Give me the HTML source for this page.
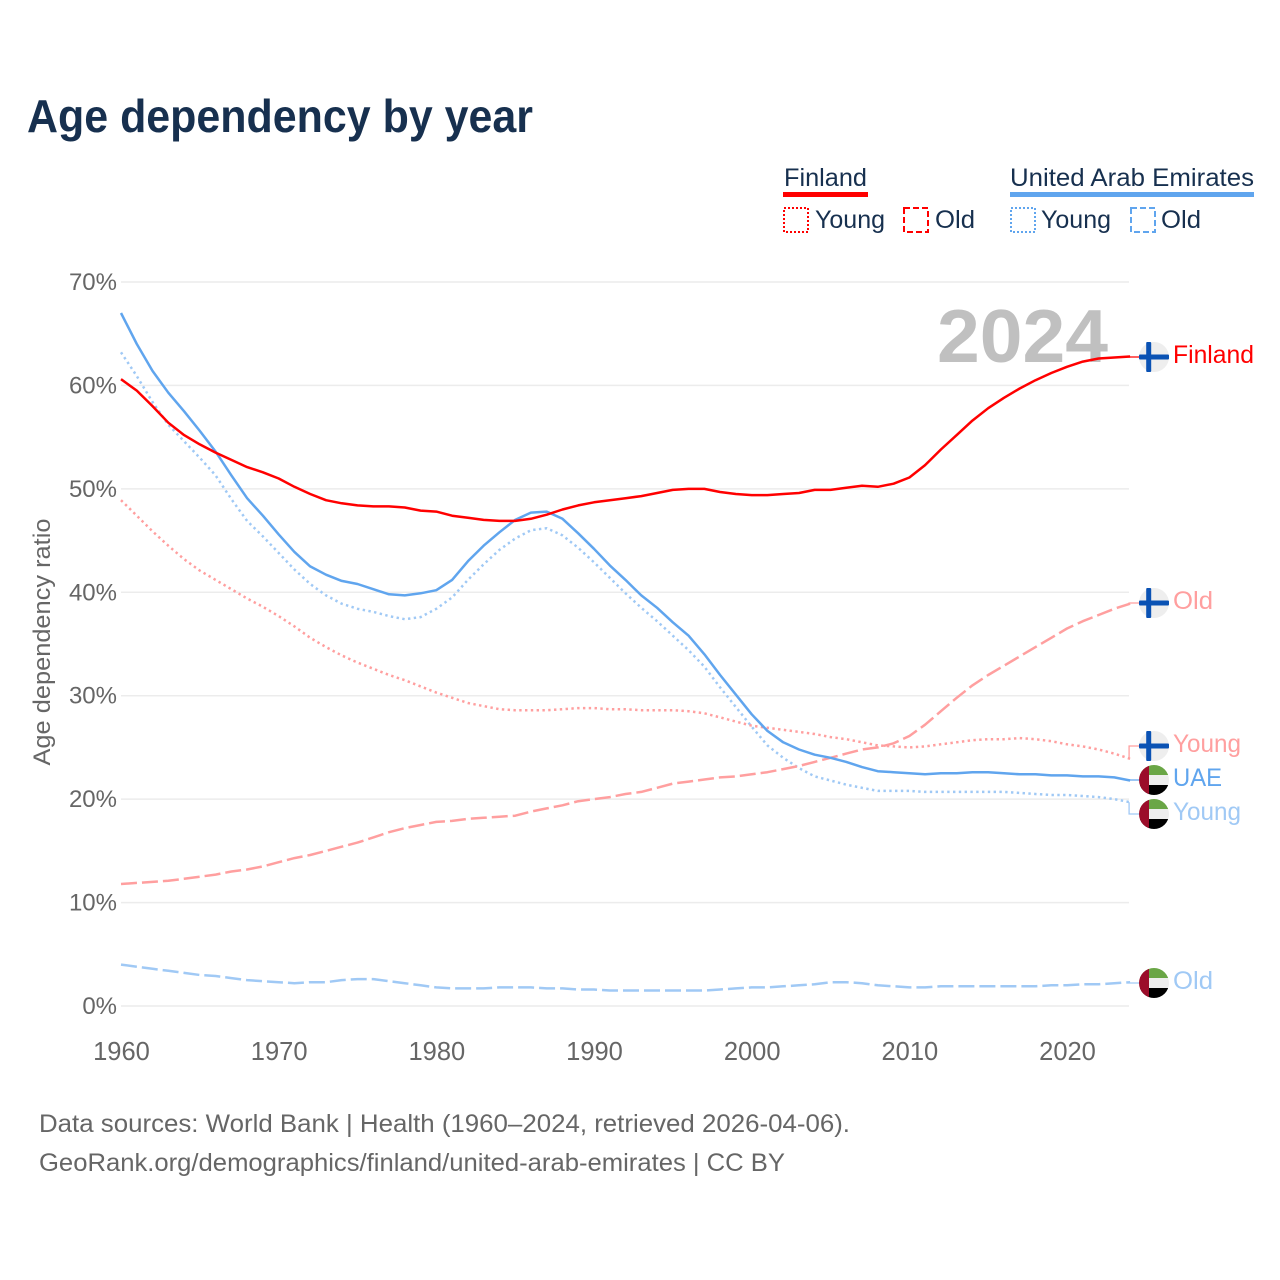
<!DOCTYPE html>
<html lang="en">
<head>
<meta charset="utf-8">
<title>Age dependency by year</title>
<style>
html,body{margin:0;padding:0;background:#fff;}
svg{display:block;font-family:"Liberation Sans",sans-serif;}
</style>
</head>
<body>
<svg id="chart" width="1280" height="1280" viewBox="0 0 1280 1280" xmlns="http://www.w3.org/2000/svg">
  <rect x="0" y="0" width="1280" height="1280" fill="#fff"/>
  <text x="27" y="132" font-size="46" font-weight="700" fill="#17304f" textLength="506" lengthAdjust="spacingAndGlyphs">Age dependency by year</text>

  <g>
    <text x="784" y="186" font-size="25" fill="#17304f" textLength="83" lengthAdjust="spacingAndGlyphs">Finland</text>
    <rect x="783" y="192" width="85" height="5" fill="#ff0000"/>
    <rect x="784" y="208" width="24" height="24" fill="none" stroke="#ff0000" stroke-width="2" stroke-dasharray="2 2"/>
    <text x="815" y="228" font-size="25" fill="#17304f" textLength="70" lengthAdjust="spacingAndGlyphs">Young</text>
    <rect x="904" y="208" width="24" height="24" fill="none" stroke="#ff0000" stroke-width="2" stroke-dasharray="6 3"/>
    <text x="935" y="228" font-size="25" fill="#17304f" textLength="40" lengthAdjust="spacingAndGlyphs">Old</text>
  </g>
  <g>
    <text x="1010" y="186" font-size="25" fill="#17304f" textLength="244" lengthAdjust="spacingAndGlyphs">United Arab Emirates</text>
    <rect x="1010" y="192" width="244" height="5" fill="#60a5ee"/>
    <rect x="1011" y="208" width="24" height="24" fill="none" stroke="#60a5ee" stroke-width="2" stroke-dasharray="2 2"/>
    <text x="1041" y="228" font-size="25" fill="#17304f" textLength="70" lengthAdjust="spacingAndGlyphs">Young</text>
    <rect x="1131" y="208" width="24" height="24" fill="none" stroke="#60a5ee" stroke-width="2" stroke-dasharray="6 3"/>
    <text x="1161" y="228" font-size="25" fill="#17304f" textLength="40" lengthAdjust="spacingAndGlyphs">Old</text>
  </g>

  <g id="grid"></g>
  <g id="yticks"></g>
  <g id="xticks"></g>
  <text transform="translate(50,642) rotate(-90)" text-anchor="middle" font-size="24" fill="#666" textLength="247" lengthAdjust="spacingAndGlyphs">Age dependency ratio</text>
  <text x="937" y="362" font-size="75" font-weight="700" fill="#c0c0c0" textLength="171" lengthAdjust="spacingAndGlyphs">2024</text>
  <g id="series"></g>
  <g id="labels"></g>

  <text x="39" y="1132" font-size="25" fill="#666" textLength="811" lengthAdjust="spacingAndGlyphs">Data sources: World Bank | Health (1960–2024, retrieved 2026-04-06).</text>
  <text x="39" y="1171" font-size="25" fill="#666" textLength="746" lengthAdjust="spacingAndGlyphs">GeoRank.org/demographics/finland/united-arab-emirates | CC BY</text>
</svg>
<script>
const startYear = 1960;
const yTickValues = [0, 10, 20, 30, 40, 50, 60, 70];
const xTickYears = [1960, 1970, 1980, 1990, 2000, 2010, 2020];

const finlandTotal = [60.6,59.5,58.0,56.4,55.2,54.3,53.5,52.8,52.1,51.6,51.0,50.2,49.5,48.9,48.6,48.4,48.3,48.3,48.2,47.9,47.8,47.4,47.2,47.0,46.9,46.9,47.1,47.5,48.0,48.4,48.7,48.9,49.1,49.3,49.6,49.9,50.0,50.0,49.7,49.5,49.4,49.4,49.5,49.6,49.9,49.9,50.1,50.3,50.2,50.5,51.1,52.3,53.8,55.2,56.6,57.8,58.8,59.7,60.5,61.2,61.8,62.3,62.6,62.7,62.8];
const finlandYoung = [48.9,47.4,45.9,44.5,43.2,42.1,41.2,40.3,39.4,38.6,37.7,36.7,35.6,34.7,33.9,33.2,32.6,32.0,31.5,30.9,30.3,29.8,29.3,29.0,28.7,28.6,28.6,28.6,28.7,28.8,28.8,28.7,28.7,28.6,28.6,28.6,28.5,28.3,27.9,27.5,27.1,26.9,26.7,26.5,26.3,26.0,25.8,25.5,25.2,25.1,25.0,25.1,25.3,25.5,25.7,25.8,25.8,25.9,25.8,25.6,25.3,25.1,24.8,24.4,23.9];
const finlandOld = [11.8,11.9,12.0,12.1,12.3,12.5,12.7,13.0,13.2,13.5,13.9,14.3,14.6,15.0,15.4,15.8,16.3,16.8,17.2,17.5,17.8,17.9,18.1,18.2,18.3,18.4,18.8,19.1,19.4,19.8,20.0,20.2,20.5,20.7,21.1,21.5,21.7,21.9,22.1,22.2,22.4,22.6,22.9,23.2,23.6,24.0,24.4,24.8,25.0,25.4,26.1,27.2,28.5,29.8,31.0,32.0,32.9,33.8,34.7,35.6,36.5,37.2,37.8,38.4,38.9];
const uaeTotal = [67.0,64.0,61.4,59.3,57.5,55.6,53.6,51.3,49.1,47.4,45.6,43.9,42.5,41.7,41.1,40.8,40.3,39.8,39.7,39.9,40.2,41.2,43.0,44.5,45.8,47.0,47.7,47.8,47.1,45.7,44.2,42.6,41.2,39.7,38.5,37.1,35.8,34.0,32.0,30.1,28.2,26.6,25.5,24.8,24.3,24.0,23.6,23.1,22.7,22.6,22.5,22.4,22.5,22.5,22.6,22.6,22.5,22.4,22.4,22.3,22.3,22.2,22.2,22.1,21.8];
const uaeYoung = [63.2,60.9,58.4,56.2,54.6,53.0,51.3,49.0,46.9,45.4,43.8,42.2,40.8,39.7,38.9,38.4,38.1,37.7,37.4,37.6,38.4,39.5,41.2,42.7,44.1,45.2,46.0,46.2,45.5,44.3,42.9,41.4,39.9,38.5,37.2,35.8,34.4,32.8,30.8,28.9,27.0,25.2,24.0,23.0,22.2,21.8,21.4,21.1,20.8,20.8,20.8,20.7,20.7,20.7,20.7,20.7,20.7,20.6,20.5,20.4,20.4,20.3,20.2,20.0,19.7];
const uaeOld = [4.0,3.8,3.6,3.4,3.2,3.0,2.9,2.7,2.5,2.4,2.3,2.2,2.3,2.3,2.5,2.6,2.6,2.4,2.2,2.0,1.8,1.7,1.7,1.7,1.8,1.8,1.8,1.7,1.7,1.6,1.6,1.5,1.5,1.5,1.5,1.5,1.5,1.5,1.6,1.7,1.8,1.8,1.9,2.0,2.1,2.3,2.3,2.2,2.0,1.9,1.8,1.8,1.9,1.9,1.9,1.9,1.9,1.9,1.9,2.0,2.0,2.1,2.1,2.2,2.3];

const NS = 'http://www.w3.org/2000/svg';
function xScale(year) { return 121 + (year - 1960) * 15.767; }
function yScale(value) { return 1006 - value * 10.343; }
function make(tag, attrs, parent, text) {
  const el = document.createElementNS(NS, tag);
  for (const k in attrs) el.setAttribute(k, attrs[k]);
  if (text !== undefined) el.textContent = text;
  parent.appendChild(el);
  return el;
}

const gridG = document.getElementById('grid');
const yG = document.getElementById('yticks');
const xG = document.getElementById('xticks');
yTickValues.forEach(function (v) {
  const line = make('line', {x1: 121, x2: 1129, y1: yScale(v), y2: yScale(v), stroke: '#ececec', 'stroke-width': 1.5}, gridG);
  
  
  const label = make('text', {x: 117, y: yScale(v) + 8, 'text-anchor': 'end', 'font-size': 24, fill: '#666'}, yG, v + '%');
  
  
});
xTickYears.forEach(function (y) {
  const label = make('text', {x: xScale(y) + 0.5, y: 1060, 'text-anchor': 'middle', 'font-size': 25.5, fill: '#666'}, xG, String(y));
  
  
});

const YOUNG_DASH = '2.4 3.4';
const OLD_DASH = '16 5';
const seriesG = document.getElementById('series');
function drawSeries(values, color, dash, name) {
  const pts = values.map(function (v, i) { return xScale(startYear + i).toFixed(1) + ',' + yScale(v).toFixed(1); }).join(' ');
  const attrs = {points: pts, fill: 'none', stroke: color, 'stroke-width': 2.5, 'stroke-linejoin': 'round'};
  if (dash) attrs['stroke-dasharray'] = dash;
  const line = make('polyline', attrs, seriesG);
  
  
}
drawSeries(uaeOld, '#a0c9f5', OLD_DASH, 'line-uae-old');
drawSeries(uaeYoung, '#a0c9f5', YOUNG_DASH, 'line-uae-young');
drawSeries(finlandOld, '#ff9f9f', OLD_DASH, 'line-finland-old');
drawSeries(finlandYoung, '#ff9f9f', YOUNG_DASH, 'line-finland-young');
drawSeries(uaeTotal, '#60a5ee', null, 'line-uae-total');
drawSeries(finlandTotal, '#ff0000', null, 'line-finland-total');

const labelsG = document.getElementById('labels');
let clipCount = 0;
function drawLeader(series, cy, color) {
  const ey = yScale(series[series.length - 1]);
  const ex = xScale(2024);
  const leader = make('polyline', {points: (ex - 1) + ',' + ey + ' ' + (ex - 1) + ',' + cy + ' 1139,' + cy, fill: 'none', stroke: color, 'stroke-width': 1.3}, labelsG);
  
  
}
function finlandFlag(cy) {
  const g = make('g', {}, labelsG);
  
  
  make('circle', {cx: 1154, cy: cy, r: 15, fill: '#eeeeee'}, g);
  make('rect', {x: 1139, y: cy - 2.5, width: 30, height: 5, rx: 1, fill: '#0a52b4'}, g);
  make('rect', {x: 1146.2, y: cy - 15, width: 5, height: 30, rx: 1, fill: '#0a52b4'}, g);
}
function uaeFlag(cy) {
  const id = 'flag-clip-' + (clipCount++);
  const g = make('g', {}, labelsG);
  
  
  const cp = make('clipPath', {id: id}, g);
  make('circle', {cx: 1154, cy: cy, r: 15}, cp);
  const inner = make('g', {'clip-path': 'url(#' + id + ')'}, g);
  make('rect', {x: 1139, y: cy - 15, width: 30, height: 10, fill: '#6aa646'}, inner);
  make('rect', {x: 1139, y: cy - 5, width: 30, height: 10, fill: '#eeeeee'}, inner);
  make('rect', {x: 1139, y: cy + 5, width: 30, height: 10, fill: '#000000'}, inner);
  make('rect', {x: 1139, y: cy - 15, width: 10, height: 30, fill: '#9b0d2a'}, inner);
}
function drawLabel(text, y, color, width, name) {
  const label = make('text', {x: 1173, y: y, 'font-size': 25, fill: color, textLength: width, lengthAdjust: 'spacingAndGlyphs'}, labelsG, text);
  
  
}

drawLeader(finlandTotal, 357, '#ff0000');
drawLeader(finlandOld, 603, '#ff9f9f');
drawLeader(finlandYoung, 746, '#ff9f9f');
drawLeader(uaeTotal, 780, '#60a5ee');
drawLeader(uaeYoung, 814, '#a0c9f5');
drawLeader(uaeOld, 983, '#a0c9f5');

finlandFlag(357);
finlandFlag(603);
finlandFlag(746);
uaeFlag(780);
uaeFlag(814);
uaeFlag(983);

drawLabel('Finland', 363, '#ff0000', 81, 'end-label-finland');
drawLabel('Old', 609, '#ff9f9f', 40, 'end-label-finland-old');
drawLabel('Young', 752, '#ff9f9f', 68, 'end-label-finland-young');
drawLabel('UAE', 786, '#60a5ee', 49, 'end-label-uae');
drawLabel('Young', 820, '#a0c9f5', 68, 'end-label-uae-young');
drawLabel('Old', 989, '#a0c9f5', 40, 'end-label-uae-old');
</script>
</body>
</html>
